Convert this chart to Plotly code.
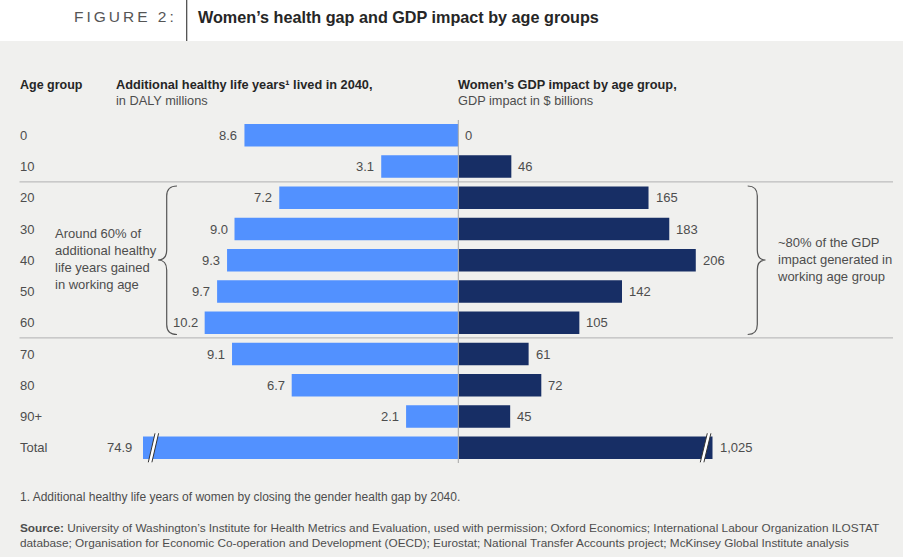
import plotly.graph_objects as go

W, H = 903, 557

age_groups = ["0", "10", "20", "30", "40", "50", "60", "70", "80", "90+", "Total"]
healthy_years = [8.6, 3.1, 7.2, 9.0, 9.3, 9.7, 10.2, 9.1, 6.7, 2.1, 74.9]
gdp_impact = [0, 46, 165, 183, 206, 142, 105, 61, 72, 45, 1025]

LEFT_COLOR = "#5291ff"
RIGHT_COLOR = "#172e65"
BG = "#f0f0ee"
TXT = "#4d4d4d"
DARK = "#262626"
FONT = "Liberation Sans, Arial, sans-serif"

# layout geometry (pixels)
X_LEFT0, X_MID, X_RIGHT1 = 143, 458.3, 712.5
Y_TOP, Y_BOT = 119.7, 463.4
LEFT_MAX = 12.68
RIGHT_MAX = 220.5
PAD = 2  # annotation inner padding compensation


def px(x):
    return x / W


def py(y):
    return 1 - y / H


fig = go.Figure()
fig.add_trace(go.Bar(
    y=age_groups, x=healthy_years, orientation="h",
    marker=dict(color=LEFT_COLOR, line=dict(width=0)),
    width=0.72, xaxis="x", yaxis="y", hoverinfo="x+y",
))
fig.add_trace(go.Bar(
    y=age_groups, x=gdp_impact, orientation="h",
    marker=dict(color=RIGHT_COLOR, line=dict(width=0)),
    width=0.72, xaxis="x2", yaxis="y", hoverinfo="x+y",
))

annotations = []
shapes = []

# value labels (y given as category index)
for i, v in enumerate(healthy_years):
    shown = min(v, LEFT_MAX)
    annotations.append(dict(
        x=shown, y=i, xref="x", yref="y", text=f"{v:.1f}",
        xanchor="right", yanchor="middle", showarrow=False,
        xshift=(-11 if v > LEFT_MAX else -7) + PAD,
        font=dict(family=FONT, size=13, color=TXT)))
for i, v in enumerate(gdp_impact):
    shown = min(v, RIGHT_MAX)
    annotations.append(dict(
        x=shown, y=i, xref="x2", yref="y", text=f"{v:,}",
        xanchor="left", yanchor="middle", showarrow=False,
        xshift=7 - PAD,
        font=dict(family=FONT, size=13, color=TXT)))

# row labels
for i, cat in enumerate(age_groups):
    annotations.append(dict(
        x=px(20), y=i, xref="paper", yref="y", text=cat,
        xanchor="left", yanchor="middle", showarrow=False, xshift=-PAD,
        font=dict(family=FONT, size=13, color=TXT)))


def txt(x, y, text, size, color=TXT, bold=False, anchor="left"):
    annotations.append(dict(
        x=px(x), y=py(y), xref="paper", yref="paper",
        text=f"<b>{text}</b>" if bold else text,
        xanchor=anchor, yanchor="middle", showarrow=False, align="left",
        xshift=-PAD if anchor == "left" else PAD,
        font=dict(family=FONT, size=size, color=color)))


# column headers
txt(20, 84.5, "Age group", 12.5, DARK, True)
txt(116, 84.5, "Additional healthy life years¹ lived in 2040,", 12.75, DARK, True)
txt(116, 100, "in DALY millions", 12.75, TXT)
txt(458, 84.5, "Women’s GDP impact by age group,", 12.75, DARK, True)
txt(458, 100, "GDP impact in $ billions", 12.75, TXT)

# title
txt(177, 17, '<span style="letter-spacing:3px">FIGURE 2:</span>', 15.5, "#555555", anchor="right")
txt(198, 17, "Women’s health gap and GDP impact by age groups", 16.2, DARK, True)

# bracket notes
annotations.append(dict(
    x=px(55), y=py(258.5), xref="paper", yref="paper", xshift=-PAD,
    text="Around 60% of<br>additional healthy<br>life years gained<br>in working age",
    xanchor="left", yanchor="middle", showarrow=False, align="left",
    font=dict(family=FONT, size=13, color=TXT)))
annotations.append(dict(
    x=px(777), y=py(259.5), xref="paper", yref="paper", xshift=-PAD,
    text="~80% of the GDP<br>impact generated in<br>working age group",
    xanchor="left", yanchor="middle", showarrow=False, align="left",
    font=dict(family=FONT, size=13, color=TXT)))

# footnotes
txt(20, 497.3, "1. Additional healthy life years of women by closing the gender health gap by 2040.", 12, TXT)
txt(20, 527.8, "<b>Source:</b> University of Washington’s Institute for Health Metrics and Evaluation, used with permission; Oxford Economics; International Labour Organization ILOSTAT", 11.8, TXT)
txt(20, 542.5, "database; Organisation for Economic Co-operation and Development (OECD); Eurostat; National Transfer Accounts project; McKinsey Global Institute analysis", 11.8, TXT)

# white header band + divider
shapes.append(dict(type="rect", xref="paper", yref="paper", x0=0, x1=1,
                   y0=py(41), y1=1, fillcolor="white", line=dict(width=0), layer="below"))
shapes.append(dict(type="line", xref="paper", yref="paper", x0=px(186.7), x1=px(186.7),
                   y0=py(0), y1=py(41), line=dict(color="#444444", width=1.2)))

# separators
for ysep in (181.8, 337.9):
    shapes.append(dict(type="line", xref="paper", yref="paper", x0=px(19.5), x1=px(893),
                       y0=py(ysep), y1=py(ysep), line=dict(color="#bdbdbd", width=1.3)))

# center axis line
shapes.append(dict(type="line", xref="paper", yref="paper", x0=px(X_MID), x1=px(X_MID),
                   y0=py(120), y1=py(463), line=dict(color="#a6a6a6", width=1), layer="above"))


def bracket(xe, xm, xt, y0, y1, ym, r=10):
    d = (f"M {px(xe)},{py(y0)} Q {px(xm)},{py(y0)} {px(xm)},{py(y0 + r)} "
         f"L {px(xm)},{py(ym - r)} Q {px(xm)},{py(ym)} {px(xt)},{py(ym)} "
         f"Q {px(xm)},{py(ym)} {px(xm)},{py(ym + r)} "
         f"L {px(xm)},{py(y1 - r)} Q {px(xm)},{py(y1)} {px(xe)},{py(y1)}")
    return dict(type="path", xref="paper", yref="paper", path=d,
                line=dict(color="#555555", width=1.2))


shapes.append(bracket(177, 166.7, 158, 186, 334.5, 260))
shapes.append(bracket(747.7, 757.3, 765.5, 186, 334.5, 260))


def break_mark(xb, xt, yb, yt):
    out = [dict(type="path", xref="paper", yref="paper",
                path=(f"M {px(xb)},{py(yb)} L {px(xt)},{py(yt)} L {px(xt + 3.6)},{py(yt)} "
                      f"L {px(xb + 3.6)},{py(yb)} Z"),
                fillcolor="white", line=dict(width=0), layer="above")]
    for dx in (0, 3.6):
        out.append(dict(type="line", xref="paper", yref="paper",
                        x0=px(xb + dx), y0=py(yb), x1=px(xt + dx), y1=py(yt),
                        line=dict(color="#333333", width=1), layer="above"))
    return out


shapes += break_mark(148.3, 155, 462.3, 433.3)
shapes += break_mark(700.3, 707.3, 462.3, 433.3)

fig.update_layout(
    width=W, height=H,
    margin=dict(l=0, r=0, t=0, b=0),
    paper_bgcolor=BG, plot_bgcolor="rgba(0,0,0,0)",
    showlegend=False,
    font=dict(family=FONT, color=TXT),
    xaxis=dict(domain=[px(X_LEFT0), px(X_MID)], range=[LEFT_MAX, 0],
               showgrid=False, zeroline=False, showticklabels=False, ticks="",
               fixedrange=True),
    xaxis2=dict(domain=[px(X_MID), px(X_RIGHT1)], range=[0, RIGHT_MAX],
                showgrid=False, zeroline=False, showticklabels=False, ticks="",
                fixedrange=True),
    yaxis=dict(domain=[py(Y_BOT), py(Y_TOP)], type="category",
               categoryorder="array", categoryarray=age_groups,
               range=[10.5, -0.5], showgrid=False, zeroline=False,
               showticklabels=False, ticks="", fixedrange=True),
    annotations=annotations,
    shapes=shapes,
)

fig.write_html(
    "out.html",
    config={"displayModeBar": False},
    post_script="document.body.style.margin='0';document.body.style.padding='0';",
)
